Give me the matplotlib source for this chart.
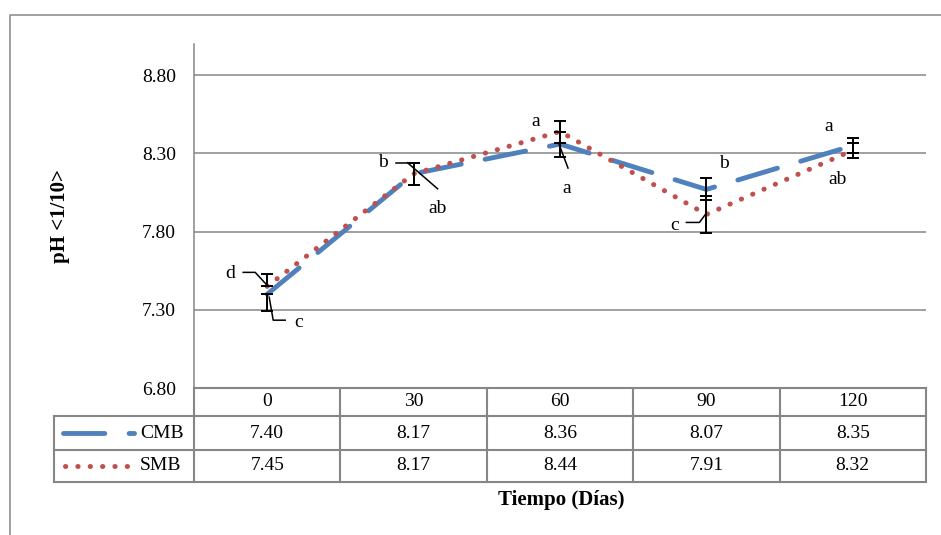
import matplotlib
matplotlib.use('Agg')
import matplotlib.pyplot as plt
import numpy as np
from matplotlib.lines import Line2D

plt.rcParams['font.family'] = ['Liberation Serif', 'DejaVu Serif']

# Data
days = ['0', '30', '60', '90', '120']
cmb = [7.40, 8.17, 8.36, 8.07, 8.35]
smb = [7.45, 8.17, 8.44, 7.91, 8.32]
cmb_low = [7.29, 8.10, 8.28, 8.00, 8.30]
cmb_high = [7.40, 8.24, 8.44, 8.14, 8.40]
smb_low = [7.45, 8.10, 8.37, 7.79, 8.27]
smb_high = [7.53, 8.24, 8.51, 8.03, 8.37]
cmb_letters = ['c', 'ab', 'a', 'b', 'a']
smb_letters = ['d', 'b', 'a', 'c', 'ab']

W, H = 941, 535
GRAY = '#868686'
BLUE = '#4F81BD'
RED = '#C0504D'
FS = 14

fig = plt.figure(figsize=(W / 100, H / 100), dpi=100)

# plot area
L, R, T, B = 194, 926, 44, 388
ax = fig.add_axes([L / W, 1 - B / H, (R - L) / W, (B - T) / H])
x = np.arange(len(days))
ax.set_xlim(-0.5, len(days) - 0.5)
ax.set_ylim(6.8, 9.0)
yt = [6.8, 7.3, 7.8, 8.3, 8.8]
ax.set_yticks(yt)
ax.set_yticklabels([f'{v:.2f}' for v in yt])
ax.set_xticks([])
ax.tick_params(axis='y', length=0, pad=13, labelsize=FS)
ax.grid(axis='y', color=GRAY, lw=1.1)
ax.set_axisbelow(True)
for s in ['top', 'right']:
    ax.spines[s].set_visible(False)
for s in ['left', 'bottom']:
    ax.spines[s].set_color(GRAY)
    ax.spines[s].set_linewidth(1.1)

cmb_style = dict(color=BLUE, lw=3.5, dashes=(8.5, 5), dash_capstyle='round',
                 solid_capstyle='round')
smb_style = dict(color=RED, lw=3.6, dashes=(0.05, 2.42), dash_capstyle='round',
                 solid_capstyle='round')

ax.plot(x, cmb, zorder=3, **cmb_style)
ax.plot(x, smb, zorder=3, **smb_style)

cm, sm = np.array(cmb), np.array(smb)
ax.errorbar(x, cm, yerr=[cm - np.array(cmb_low), np.array(cmb_high) - cm],
            fmt='none', ecolor='black', elinewidth=1.4, capsize=4, capthick=1.4,
            zorder=4)
ax.errorbar(x, sm, yerr=[sm - np.array(smb_low), np.array(smb_high) - sm],
            fmt='none', ecolor='black', elinewidth=1.4, capsize=4, capthick=1.4,
            zorder=4)


def off(xv, yv, dx, dy):
    px, py = ax.transData.transform((xv, yv))
    return ax.transData.inverted().transform((px + dx, py - dy))


# letter labels: text offset px and leader offsets px from each point
cmb_marks = [((31, 28), [(2, 3), (6, 26), (18, 26)]),
             ((24, 35), [(-6, -11), (24, 15)]),
             ((7, 44), [(-1, 0), (8, 24)]),
             ((18, -26), None),
             ((-24, -19), None)]
smb_marks = [((-37, -13), [(-24, -14), (-12, -14), (0, -1)]),
             ((-31, -11), [(-18, -11), (-6, -11)]),
             ((-24, -10), None),
             ((-32, 11), [(-20, 8), (-7, 8), (-1, 0)]),
             ((-15, 29), None)]

for vals, letters, marks in [(cmb, cmb_letters, cmb_marks),
                             (smb, smb_letters, smb_marks)]:
    for i, (v, lt, (toff, leader)) in enumerate(zip(vals, letters, marks)):
        tx, ty = off(i, v, *toff)
        ax.text(tx, ty, lt, ha='center', va='center', fontsize=FS, zorder=5,
                clip_on=False)
        if leader:
            pts = np.array([off(i, v, dx, dy) for dx, dy in leader])
            ax.plot(pts[:, 0], pts[:, 1], color='black', lw=1.1, zorder=5,
                    clip_on=False)

# data table below the plot
TL, TB = 54, 482
rows_y = [388, 416, 450, 482]
colw = (R - L) / len(days)
tax = fig.add_axes([TL / W, 1 - TB / H, (R - TL) / W, (TB - B) / H])
tax.set_xlim(-0.5 - (L - TL) / colw, len(days) - 0.5)
tax.set_ylim(TB, B)
tax.axis('off')
x0 = -0.5 - (L - TL) / colw
xl = -0.5
xr = len(days) - 0.5
lk = dict(color=GRAY, lw=1.5, solid_capstyle='projecting', clip_on=False)
tax.plot([xl, xr], [rows_y[0]] * 2, **lk)
for yy in rows_y[1:]:
    tax.plot([x0, xr], [yy, yy], **lk)
tax.plot([x0, x0], [rows_y[1], rows_y[3]], **lk)
for k in range(len(days) + 1):
    tax.plot([xl + k, xl + k], [rows_y[0], rows_y[3]], **lk)

mid = [(rows_y[j] + rows_y[j + 1]) / 2 for j in range(3)]
for i, d in enumerate(days):
    tax.text(i, mid[0], d, ha='center', va='center', fontsize=FS)
    tax.text(i, mid[1], f'{cmb[i]:.2f}', ha='center', va='center', fontsize=FS)
    tax.text(i, mid[2], f'{smb[i]:.2f}', ha='center', va='center', fontsize=FS)


def px2x(p):
    return -0.5 + (p - L) / colw


tax.plot([px2x(63), px2x(134)], [mid[1]] * 2, clip_on=False, **cmb_style)
tax.plot([px2x(65), px2x(130)], [mid[2]] * 2, clip_on=False, **smb_style)
tax.text(px2x(140), mid[1], 'CMB', ha='left', va='center', fontsize=FS)
tax.text(px2x(140), mid[2], 'SMB', ha='left', va='center', fontsize=FS)

# axis titles
fig.text(60 / W, 1 - 216 / H, 'pH <1/10>', rotation=90, weight='bold',
         ha='center', va='center', fontsize=15)
fig.text(561 / W, 1 - 500 / H, 'Tiempo (Días)', weight='bold',
         ha='center', va='center', fontsize=15)

# chart frame
fig.add_artist(Line2D([9.5 / W, 9.5 / W, 1], [0, 1 - 14.5 / H, 1 - 14.5 / H],
                      transform=fig.transFigure, color=GRAY, lw=1.1))

fig.savefig('out.png', dpi=100)
